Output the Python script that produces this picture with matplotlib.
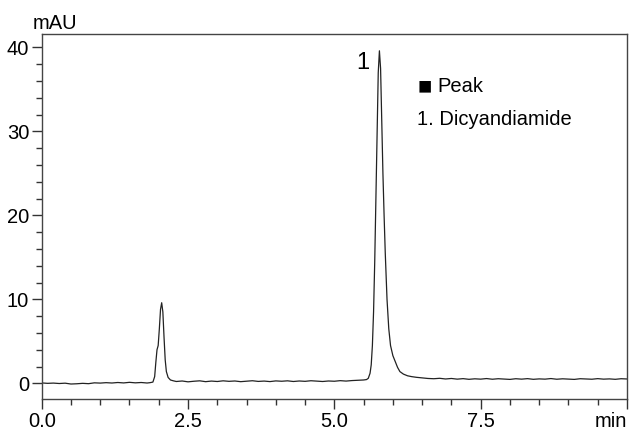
import matplotlib
matplotlib.use("Agg")
import matplotlib.pyplot as plt
from matplotlib.ticker import MultipleLocator

plt.rcParams['font.family'] = ['Liberation Sans', 'DejaVu Sans']

# chromatogram points (min, mAU)
time_min = [
    0.00, 0.10, 0.20, 0.30, 0.40, 0.50, 0.60, 0.70, 0.80, 0.90,
    1.00, 1.10, 1.20, 1.30, 1.40, 1.50, 1.60, 1.70, 1.80, 1.85, 1.90,
    1.93, 1.95, 1.97, 1.99, 2.01, 2.03, 2.05, 2.07, 2.09, 2.11, 2.13,
    2.16, 2.20, 2.25,
    2.30, 2.40, 2.50, 2.60, 2.70, 2.80, 2.90, 3.00, 3.10, 3.20,
    3.30, 3.40, 3.50, 3.60, 3.70, 3.80, 3.90, 4.00, 4.10, 4.20,
    4.30, 4.40, 4.50, 4.60, 4.70, 4.80, 4.90, 5.00, 5.10, 5.20,
    5.30, 5.40, 5.50,
    5.55, 5.58, 5.61, 5.63, 5.65, 5.67, 5.69, 5.71, 5.73, 5.75,
    5.77, 5.79, 5.81, 5.83, 5.85, 5.87, 5.90, 5.93, 5.96, 6.00,
    6.04, 6.08, 6.12, 6.18, 6.25, 6.32, 6.40, 6.50, 6.60,
    6.70, 6.80, 6.90, 7.00, 7.10, 7.20, 7.30, 7.40, 7.50, 7.60,
    7.70, 7.80, 7.90, 8.00, 8.10, 8.20, 8.30, 8.40, 8.50, 8.60,
    8.70, 8.80, 8.90, 9.00, 9.10, 9.20, 9.30, 9.40, 9.50, 9.60,
    9.70, 9.80, 9.90, 10.00,
]
signal_mau = [
    0.05, 0.00, 0.03, -0.02, 0.02, -0.08, -0.05, 0.00, -0.04, 0.06,
    0.03, 0.08, 0.04, 0.10, 0.05, 0.12, 0.06, 0.10, 0.04, 0.08, 0.15,
    0.80, 2.50, 4.00, 4.50, 6.50, 8.80, 9.60, 8.50, 5.50, 2.80, 1.40,
    0.70, 0.40, 0.30,
    0.22, 0.28, 0.18, 0.25, 0.30, 0.20, 0.27, 0.22, 0.30, 0.24,
    0.28, 0.20, 0.26, 0.31, 0.23, 0.27, 0.21, 0.29, 0.25, 0.30,
    0.22, 0.28, 0.24, 0.31, 0.26, 0.22, 0.28, 0.25, 0.32, 0.27,
    0.33, 0.36, 0.40,
    0.45, 0.60, 1.20, 2.20, 4.50, 8.50, 14.5, 22.0, 30.0, 37.0,
    39.6, 37.5, 31.0, 25.0, 20.0, 15.5, 10.0, 6.50, 4.50, 3.30,
    2.60, 1.90, 1.40, 1.10, 0.90, 0.80, 0.72, 0.65, 0.58,
    0.55, 0.60, 0.52, 0.58, 0.50, 0.56, 0.48, 0.54, 0.50, 0.57,
    0.49, 0.55, 0.51, 0.47, 0.55, 0.50, 0.56, 0.48, 0.53, 0.50,
    0.57, 0.49, 0.54, 0.51, 0.47, 0.55, 0.52, 0.49, 0.56, 0.50,
    0.53, 0.48, 0.55, 0.52,
]

x_ticks = [0.0, 2.5, 5.0, 7.5, 10.0]
x_labels = ['0.0', '2.5', '5.0', '7.5', 'min']
y_ticks = [0, 10, 20, 30, 40]

fig = plt.figure(figsize=(6.29, 4.30), dpi=100)
ax = fig.add_axes([0.0663, 0.0714, 0.9305, 0.8495])

ax.plot(time_min, signal_mau, color='#222222', linewidth=0.9)

ax.set_xlim(0, 10)
ax.set_ylim(-1.9, 41.6)
ax.set_xticks(x_ticks)
ax.set_xticklabels(x_labels)
ax.set_yticks(y_ticks)
ax.xaxis.set_minor_locator(MultipleLocator(0.5))
ax.yaxis.set_minor_locator(MultipleLocator(2))

ax.tick_params(which='major', direction='out', length=7, width=1,
               color='#333333', labelsize=14.5, pad=2)
ax.tick_params(which='minor', direction='out', length=4.5, width=1,
               color='#333333')
# "min" sits flush with the right edge
ax.get_xticklabels()[-1].set_horizontalalignment('right')
for side in ['left', 'bottom', 'top', 'right']:
    ax.spines[side].set_color('#444444')
    ax.spines[side].set_linewidth(1)

# axis unit at top left
fig.text(0.0525, 0.923, 'mAU', fontsize=14.5, ha='left', va='bottom')

# peak label
ax.text(5.48, 38.2, '1', fontsize=17, ha='center', va='center')

# legend text
ax.text(0.643, 0.855, '■', transform=ax.transAxes, fontsize=17,
        ha='left', va='center')
ax.text(0.676, 0.855, 'Peak', transform=ax.transAxes, fontsize=14.5,
        ha='left', va='center')
ax.text(0.641, 0.765, '1. Dicyandiamide', transform=ax.transAxes,
        fontsize=14.5, ha='left', va='center')

fig.savefig('out.png', dpi=100)
